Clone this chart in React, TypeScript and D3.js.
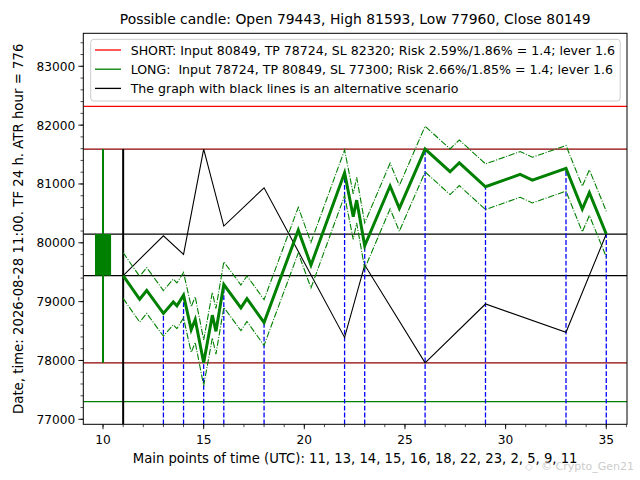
import React from "react";
import * as d3 from "d3";

const title = "Possible candle: Open 79443, High 81593, Low 77960, Close 80149";
const yLabel = "Date, time: 2026-08-28 11:00. TF 24 h. ATR hour = 776";
const xLabel = "Main points of time (UTC): 11, 13, 14, 15, 16, 18, 22, 23, 2, 5, 9, 11";
const legendLabels = [
  "SHORT: Input 80849, TP 78724, SL 82320; Risk 2.59%/1.86% = 1.4; lever 1.6",
  "LONG:  Input 78724, TP 80849, SL 77300; Risk 2.66%/1.85% = 1.4; lever 1.6",
  "The graph with black lines is an alternative scenario",
];
const legendColors = ["#ff0000", "#008000", "#000000"];

const candleOpen = 79443;
const candleHigh = 81593;
const candleLow = 77960;
const candleClose = 80149;
const candleX = 10;
const startX = 11;
const shortSL = 82320;
const longSL = 77300;
const atrHalf = 388;

const mainX = [11, 11.82, 12.17, 13, 13.49, 13.67, 14, 14.38, 14.58, 15, 15.43, 15.61, 16, 16.85, 17.15, 18, 19.7, 20.33, 22, 22.43, 22.6, 23, 24.26, 24.72, 26, 27.24, 27.7, 29, 30.72, 31.33, 33, 33.81, 34.16, 35];
const mainY = [79443, 79040, 79190, 78800, 78995, 78930, 79110, 78525, 78695, 77960, 78770, 78495, 79290, 78895, 79050, 78645, 80215, 79620, 81190, 80445, 80725, 79950, 80965, 80585, 81593, 81208, 81360, 80953, 81162, 81066, 81266, 80574, 80852, 80149];

const altX = [11, 13, 14, 15, 16, 18, 22, 23, 26, 29, 33, 35];
const altY = [79443, 80120, 79804, 81593, 80285, 80935, 78392, 79622, 77960, 78960, 78479, 80149];

const keyX = [13, 14, 15, 16, 18, 22, 23, 26, 29, 33, 35];
const keyY = [78800, 79110, 77960, 79290, 78645, 81190, 79950, 81593, 80953, 81266, 80149];

const xTicks = [10, 15, 20, 25, 30, 35];
const yTicks = [77000, 78000, 79000, 80000, 81000, 82000, 83000];

const W = 640, H = 480;
const L = 83.3, R = 627, T = 33.3, B = 424.3;
const FONT = "DejaVu Sans, sans-serif";

export default function App() {
  const x = d3.scaleLinear().domain([9.02, 36.03]).range([L, R]);
  const y = d3.scaleLinear().domain([76915, 83561]).range([B, T]);

  const pts = mainX.map((v, i) => [v, mainY[i]] as [number, number]);
  const line = d3.line<[number, number]>().x((d) => x(d[0])).y((d) => y(d[1]));
  const mainPath = line(pts) || "";
  const upPath = line(pts.map((p) => [p[0], p[1] + atrHalf] as [number, number])) || "";
  const loPath = line(pts.map((p) => [p[0], p[1] - atrHalf] as [number, number])) || "";
  const altPath = line(altX.map((v, i) => [v, altY[i]] as [number, number])) || "";

  const xMinor = d3.range(10, 37, 1).filter((v) => x(v) <= R + 0.5);
  const yMinor = d3.range(77000, 83600, 200).filter((v) => y(v) >= T);

  const hLines = [
    { v: shortSL, c: "#ff0000", w: 1.2 },
    { v: candleHigh, c: "#8b0000", w: 1.2 },
    { v: candleLow, c: "#8b0000", w: 1.2 },
    { v: longSL, c: "#008000", w: 1.2 },
    { v: candleOpen, c: "#000000", w: 1.3 },
    { v: candleClose, c: "#000000", w: 1.3 },
  ];

  return (
    <div style={{ position: "fixed", left: 0, top: 0 }}>
      <svg width={W} height={H} style={{ display: "block", background: "#fff" }} fontFamily={FONT}>
        <defs>
          <clipPath id="plot">
            <rect x={L} y={T} width={R - L} height={B - T} />
          </clipPath>
        </defs>
        <rect x={0} y={0} width={W} height={H} fill="#fff" />
        <g clipPath="url(#plot)">
          {hLines.map((h, i) => (
            <line key={i} x1={L} x2={R} y1={y(h.v)} y2={y(h.v)} stroke={h.c} strokeWidth={h.w} />
          ))}
          <line x1={x(candleX)} x2={x(candleX)} y1={y(candleLow)} y2={y(candleHigh)} stroke="#008000" strokeWidth={2} />
          <rect
            x={x(candleX - 0.4)}
            y={y(Math.max(candleOpen, candleClose))}
            width={x(candleX + 0.4) - x(candleX - 0.4)}
            height={Math.abs(y(candleOpen) - y(candleClose))}
            fill="#008000"
          />
          <line x1={x(startX)} x2={x(startX)} y1={B} y2={y(candleHigh)} stroke="#000" strokeWidth={2} />
          {keyX.map((v, i) => (
            <line key={i} x1={x(v)} x2={x(v)} y1={B} y2={y(keyY[i])} stroke="#0000ff" strokeWidth={1.3} strokeDasharray="4.8,2.1" />
          ))}
          <path d={altPath} fill="none" stroke="#000" strokeWidth={1.1} />
          <path d={upPath} fill="none" stroke="#008000" strokeWidth={1.1} strokeDasharray="6.4,1.6,1,1.6" />
          <path d={loPath} fill="none" stroke="#008000" strokeWidth={1.1} strokeDasharray="6.4,1.6,1,1.6" />
          <path d={mainPath} fill="none" stroke="#008000" strokeWidth={3} strokeLinejoin="miter" />
        </g>
        <rect x={L} y={T} width={R - L} height={B - T} fill="none" stroke="#000" strokeWidth={1} />
        {xMinor.map((v) => (
          <line key={"xm" + v} x1={x(v)} x2={x(v)} y1={B} y2={B + 2.8} stroke="#000" strokeWidth={0.7} />
        ))}
        {xTicks.map((v) => (
          <g key={"xt" + v}>
            <line x1={x(v)} x2={x(v)} y1={B} y2={B + 4.9} stroke="#000" strokeWidth={0.9} />
            <text x={x(v)} y={B + 19.5} fontSize={12.2} textAnchor="middle" fill="#000">{v}</text>
          </g>
        ))}
        {yMinor.map((v) => (
          <line key={"ym" + v} x1={L - 2.8} x2={L} y1={y(v)} y2={y(v)} stroke="#000" strokeWidth={0.7} />
        ))}
        {yTicks.map((v) => (
          <g key={"yt" + v}>
            <line x1={L - 4.9} x2={L} y1={y(v)} y2={y(v)} stroke="#000" strokeWidth={0.9} />
            <text x={L - 8} y={y(v) + 4.4} fontSize={12.2} textAnchor="end" fill="#000">{v}</text>
          </g>
        ))}
        <rect x={90.7} y={39.3} width={529.5} height={61.7} rx={3} fill="#fff" fillOpacity={0.8} stroke="#cccccc" strokeWidth={1} />
        {legendLabels.map((t, i) => (
          <g key={"lg" + i}>
            <line x1={95} x2={121} y1={50 + i * 19.2} y2={50 + i * 19.2} stroke={legendColors[i]} strokeWidth={1.3} />
            <text x={130.7} y={50 + i * 19.2 + 4.5} fontSize={12.55} fill="#000" style={{ whiteSpace: "pre" }}>{t}</text>
          </g>
        ))}
        <text x={(L + R) / 2} y={24} fontSize={13.9} textAnchor="middle" fill="#000">{title}</text>
        <text x={(L + R) / 2} y={463} fontSize={13.2} textAnchor="middle" fill="#000">{xLabel}</text>
        <text transform={`translate(23,${(T + B) / 2}) rotate(-90)`} fontSize={13.3} textAnchor="middle" fill="#000">{yLabel}</text>
        <text x={525} y={470} fontSize={10} fill="#d4d4d4">◇</text>
        <text x={541} y={470} fontSize={11} fill="#c8c8c8" opacity={0.9}>© Crypto_Gen21</text>
      </svg>
    </div>
  );
}
